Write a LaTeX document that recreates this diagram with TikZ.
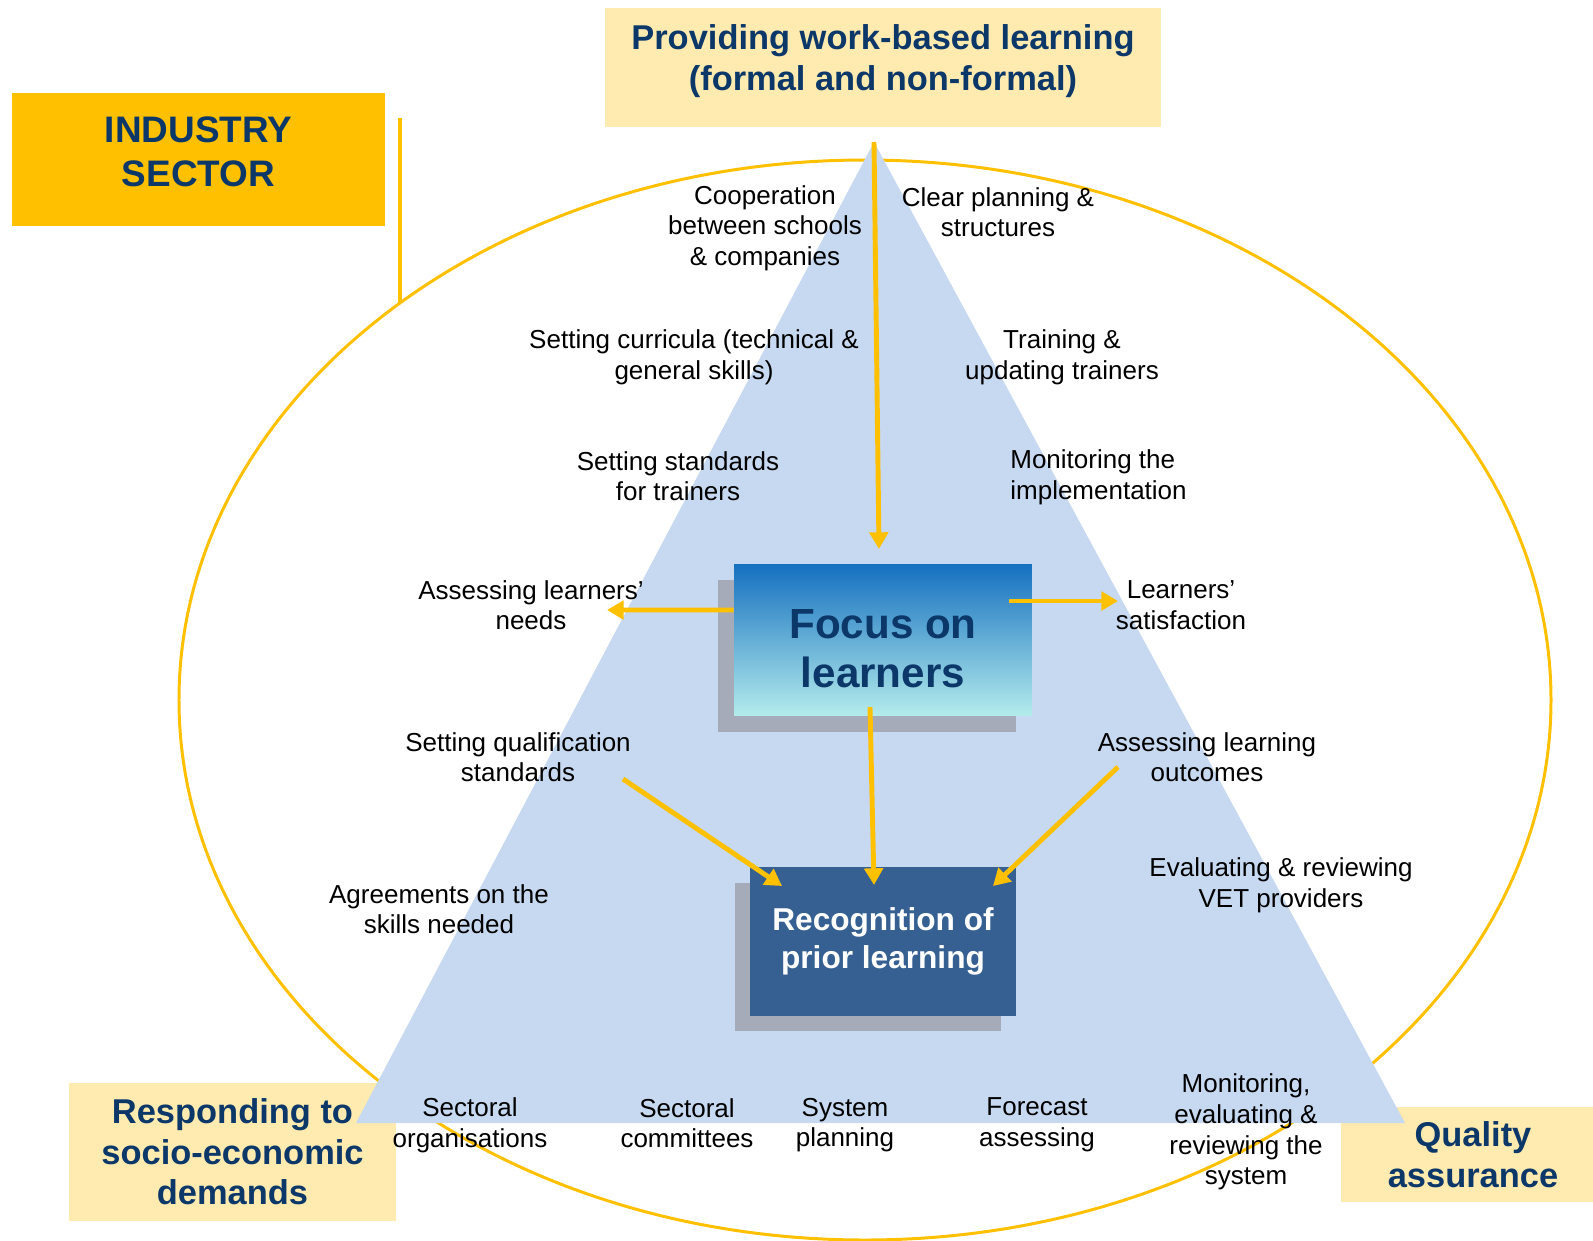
\documentclass[tikz,border=0pt]{standalone}
\usepackage{fontspec}
\setmainfont{Liberation Sans}
\usetikzlibrary{arrows.meta, shadows}
\definecolor{gold}{HTML}{FFC000}
\definecolor{paleyellow}{HTML}{FFEAB0}
\definecolor{navy}{RGB}{12,55,105}
\definecolor{triblue}{HTML}{C6D9F0}
\definecolor{rplblue}{HTML}{366092}
\definecolor{shadowgray}{HTML}{A5ABB8}
\definecolor{focustop}{HTML}{1570C0}
\definecolor{focusbot}{HTML}{B4ECEC}
\tikzset{
  lbl/.style={align=center, font=\fontsize{14.8}{17.4}\selectfont, inner sep=0pt},
  headtext/.style={align=center, text=navy, inner sep=0pt, font=\fontsize{19.6}{23}\selectfont\bfseries},
  headbox/.style={fill=paleyellow, inner sep=0pt},
  goldarrow/.style={draw=gold, line width=2.8pt, -{Triangle[width=10.5pt, length=9.5pt]}},
}

\begin{document}
\begin{tikzpicture}[x=0.02cm, y=-0.02cm]
    \useasboundingbox (0,0) rectangle (1593,1241);
    \draw[gold, line width=1.7pt] (865,700) ellipse [x radius=686, y radius=540];
    \node[fill=gold, minimum width=7.46cm, minimum height=2.66cm, inner sep=0pt,
      label={[headtext, yshift=0.16cm, font=\fontsize{21}{24.9}\selectfont\bfseries]center:INDUSTRY\\SECTOR}] (industry) at (198.5,159.5) {};
    \coordinate (bar top) at (400,118);
    \coordinate (bar end) at (400,302);
    \draw[gold, line width=2pt] (bar top) -- (bar end);
    \node[headbox, minimum width=11.12cm, minimum height=2.38cm,
      label={[headtext, yshift=0.13cm]center:Providing work-based learning\\(formal and non-formal)}] (workbased) at (883,67.5) {};
    \node[headbox, minimum width=6.54cm, minimum height=2.76cm,
      label={[headtext]center:Responding to\\socio-economic\\demands}] (socio) at (232.5,1152) {};
    \node[headbox, minimum width=5.04cm, minimum height=1.9cm,
      label={[headtext, xshift=0.12cm]center:Quality\\assurance}] (quality) at (1467,1154.5) {};
    \coordinate (apex) at (874,142);
    \coordinate (base left) at (356,1123);
    \coordinate (base right) at (1405,1123);
    \fill[triblue] (apex) -- (base left) -- (base right) -- cycle;
    \node[minimum width=5.96cm, minimum height=3.04cm, inner sep=0pt, top color=focustop, bottom color=focusbot,
      drop shadow={shadow xshift=-0.32cm, shadow yshift=-0.32cm, fill=shadowgray, opacity=1},
      label={[headtext, yshift=-0.18cm, font=\fontsize{24}{28}\selectfont\bfseries]center:Focus on\\learners}] (focus) at (883,640) {};
    \node[fill=rplblue, minimum width=5.32cm, minimum height=2.98cm, inner sep=0pt,
      drop shadow={shadow xshift=-0.3cm, shadow yshift=-0.31cm, fill=shadowgray, opacity=1},
      text=white, align=center, font=\fontsize{18}{21.3}\selectfont\bfseries] (prior) at (883,941.5) {Recognition of\\prior learning};
    \coordinate (focus top) at (879,549);
    \coordinate (needs tip) at (607,610);
    \coordinate (satis start) at (1009,601);
    \coordinate (satis tip) at (1118,601);
    \coordinate (focus foot) at (870,707);
    \coordinate (prior top) at (874,885);
    \coordinate (qual start) at (623,779);
    \coordinate (prior left) at (782,886);
    \coordinate (outc start) at (1118,767);
    \coordinate (prior right) at (993,886);
    \draw[goldarrow] (apex) -- (focus top);
    \draw[goldarrow] ([yshift=0.6cm]focus.west) -- (needs tip);
    \draw[goldarrow] (satis start) -- (satis tip);
    \draw[goldarrow] (focus foot) -- (prior top);
    \draw[goldarrow] (qual start) -- (prior left);
    \draw[goldarrow] (outc start) -- (prior right);
    \node[lbl] (coop) at (765,228) {Cooperation\\between schools\\\& companies};
    \node[lbl] (planning) at (998,212) {Clear planning \&\\structures};
    \node[lbl] (curricula) at (694,357) {Setting curricula (technical \&\\general skills)};
    \node[lbl] (training) at (1062,357) {Training \&\\updating trainers};
    \node[lbl] (standards) at (678,476) {Setting standards\\for trainers};
    \node[lbl, align=left, anchor=west] (monitor) at (1010,477) {Monitoring the\\implementation};
    \node[lbl] (needs) at (531,605) {Assessing learners’\\needs};
    \node[lbl] (satis) at (1181,605) {Learners’\\satisfaction};
    \node[lbl] (qualstd) at (518,757) {Setting qualification\\standards};
    \node[lbl] (outcomes) at (1207,757) {Assessing learning\\outcomes};
    \node[lbl] (skills) at (439,909) {Agreements on the\\skills needed};
    \node[lbl] (vet) at (1281,885) {Evaluating \& reviewing\\VET providers};
    \node[lbl] (sectorg) at (470,1125) {Sectoral\\organisations};
    \node[lbl] (sectcom) at (687,1123) {Sectoral\\committees};
    \node[lbl] (sysplan) at (845,1125) {System\\planning};
    \node[lbl] (forecast) at (1037,1125) {Forecast\\assessing};
    \node[lbl] (sysreview) at (1246,1132) {Monitoring,\\evaluating \&\\reviewing the\\system};
\end{tikzpicture}
\end{document}
